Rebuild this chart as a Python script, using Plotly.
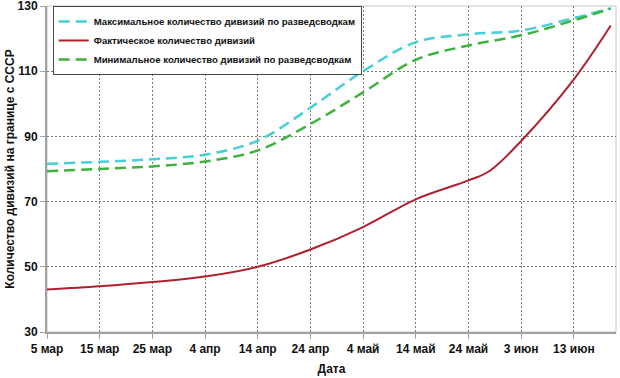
import plotly.graph_objects as go

# ---- data ----
dates_actual = ["1941-03-05", "1941-03-15", "1941-03-25", "1941-04-04", "1941-04-14",
                "1941-04-24", "1941-05-04", "1941-05-14", "1941-05-24", "1941-05-28",
                "1941-06-03", "1941-06-13", "1941-06-20"]
actual = [43, 44, 45.3, 47, 50, 55.3, 62.2, 70.7, 76.5, 79.4, 88.6, 107.5, 124]

dates_est = ["1941-03-05", "1941-03-15", "1941-03-25", "1941-04-04", "1941-04-14",
             "1941-04-24", "1941-05-04", "1941-05-14", "1941-05-24", "1941-06-03",
             "1941-06-13", "1941-06-20"]
max_est = [81.6, 82.2, 83.0, 84.4, 88.7, 98.8, 110.0, 118.9, 121.3, 122.5, 126.3, 129.3]
min_est = [79.3, 80.0, 80.8, 82.3, 85.7, 93.8, 103.5, 113.5, 117.9, 121.0, 125.6, 129.2]

tick_vals = ["1941-03-05", "1941-03-15", "1941-03-25", "1941-04-04", "1941-04-14",
             "1941-04-24", "1941-05-04", "1941-05-14", "1941-05-24", "1941-06-03",
             "1941-06-13"]
tick_text = ["5 мар", "15 мар", "25 мар", "4 апр", "14 апр", "24 апр",
             "4 май", "14 май", "24 май", "3 июн", "13 июн"]
y_ticks = [30, 50, 70, 90, 110, 130]

name_max = "Максимальное количество дивизий по разведсводкам"
name_act = "Фактическое количество дивизий"
name_min = "Минимальное количество дивизий по разведсводкам"

FONT = "Liberation Sans, Arial, sans-serif"
TXT = "#111111"
GRID = "#7a7a7a"

fig = go.Figure()
fig.add_trace(go.Scatter(x=dates_est, y=max_est, name=name_max, mode="lines",
                         line=dict(color="#45CFD6", width=2.5, dash="11px,6px",
                                   shape="spline", smoothing=1.0)))
fig.add_trace(go.Scatter(x=dates_actual, y=actual, name=name_act, mode="lines",
                         line=dict(color="#B0202C", width=2,
                                   shape="spline", smoothing=1.0)))
fig.add_trace(go.Scatter(x=dates_est, y=min_est, name=name_min, mode="lines",
                         line=dict(color="#3DB33D", width=2.5, dash="11px,6px",
                                   shape="spline", smoothing=1.0)))

fig.update_layout(
    width=620, height=378,
    margin=dict(l=47, r=4, t=6, b=46, autoexpand=False),
    paper_bgcolor="white", plot_bgcolor="white",
    font=dict(family=FONT, size=12, color=TXT, weight="bold"),
    legend=dict(x=0.01, y=1, xanchor="left", yanchor="top",
                bgcolor="white", bordercolor="#444444", borderwidth=1,
                font=dict(family=FONT, size=9.6, color=TXT, weight="bold"),
                tracegroupgap=0, itemwidth=30),
    shapes=[dict(type="rect", xref="paper", yref="paper", x0=0, y0=0, x1=1, y1=1,
                 line=dict(color="#c8c8c8", width=1), layer="below")],
)
fig.update_xaxes(
    range=["1941-03-05", "1941-06-21"], automargin=False,
    tickmode="array", tickvals=tick_vals, ticktext=tick_text,
    showgrid=True, gridcolor=GRID, griddash="2px,2px", gridwidth=1,
    showline=True, linecolor="#a0a0a0", linewidth=2,
    ticks="outside", ticklen=5, tickcolor="#a0a0a0",
    ticklabeloverflow="allow",
    tickfont=dict(family=FONT, size=12, color=TXT, weight="bold"),
    title=dict(text="Дата", standoff=9,
               font=dict(family=FONT, size=12, color=TXT, weight="bold")),
    zeroline=False,
)
fig.update_yaxes(
    range=[30, 130], tickvals=y_ticks, automargin=False,
    showgrid=True, gridcolor=GRID, griddash="2px,2px", gridwidth=1,
    showline=True, linecolor="#a0a0a0", linewidth=2,
    ticks="outside", ticklen=5, tickcolor="#a0a0a0",
    ticklabeloverflow="allow",
    tickfont=dict(family=FONT, size=12, color=TXT, weight="bold"),
    title=dict(text="Количество дивизий на границе с СССР", standoff=0,
               font=dict(family=FONT, size=12, color=TXT, weight="bold")),
    zeroline=False,
)

fig.write_html("out.html", config={"displayModeBar": False},
               post_script="document.body.style.margin='0px';document.body.style.overflow='hidden';")
